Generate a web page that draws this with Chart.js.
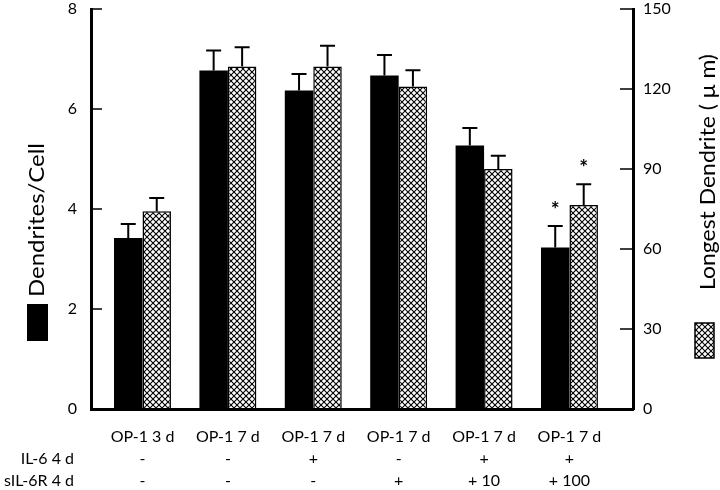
<!DOCTYPE html>
<html><head><meta charset="utf-8">
<script src="https://cdn.jsdelivr.net/npm/chart.js@4/dist/chart.umd.min.js"></script>
<style>html,body{margin:0;padding:0;background:#fff}#wrap{width:720px;height:490px}</style>
</head><body><div id="wrap"><canvas id="c" width="720" height="490"></canvas></div>
<script>
// ---- data ----
const categories = ['OP-1 3 d','OP-1 7 d','OP-1 7 d','OP-1 7 d','OP-1 7 d','OP-1 7 d'];
const il6Row = ['-','-','+','-','+','+'];
const sil6rRow = ['-','-','-','+','+ 10','+ 100'];
const rowHeaders = ['IL-6 4 d','sIL-6R 4 d'];
const dendritesPerCell = [3.42,6.77,6.37,6.67,5.27,3.23];
const dendritesErr = [0.28,0.40,0.33,0.41,0.35,0.43];
const longestDendrite = [74.2,128.4,128.4,120.9,90.0,76.5];
const longestErr = [4.9,7.3,7.8,6.1,5.0,7.8];
const significant = [false,false,false,false,false,true];
const leftTicks = [0,2,4,6,8];
const rightTicks = [0,30,60,90,120,150];
const leftTitle = 'Dendrites/Cell';
const rightTitle = 'Longest Dendrite ( \u03bc m)';

const FONT = 'Lato, "Open Sans", sans-serif';

function makeHatch(ctx){
  const s = 6;
  const c = document.createElement('canvas'); c.width = s; c.height = s;
  const g = c.getContext('2d');
  g.fillStyle = '#fff'; g.fillRect(0,0,s,s);
  g.strokeStyle = '#000'; g.lineWidth = 1.1;
  g.beginPath();
  g.moveTo(-1,-1); g.lineTo(s+1,s+1);
  g.moveTo(-1,s+1); g.lineTo(s+1,-1);
  g.stroke();
  return ctx.createPattern(c,'repeat');
}
const canvas = document.getElementById('c');
const ctx0 = canvas.getContext('2d');
const hatch = makeHatch(ctx0);

function drawVerticalText(ctx, text, cx, cy, length){
  ctx.save();
  ctx.translate(cx, cy);
  ctx.rotate(-Math.PI / 2);
  const w = ctx.measureText(text).width;
  const sx = length ? length / w : 1;
  ctx.scale(sx, 1);
  ctx.fillText(text, 0, 0);
  ctx.restore();
}

const decor = {
  id: 'decor',
  afterDatasetsDraw(chart){
    const ctx = chart.ctx;
    const ca = chart.chartArea;
    const sets = [
      {vals: dendritesPerCell, errs: dendritesErr, scale: chart.scales.y},
      {vals: longestDendrite, errs: longestErr, scale: chart.scales.y2}
    ];
    ctx.save();
    ctx.strokeStyle = '#000';
    sets.forEach((s, di) => {
      const meta = chart.getDatasetMeta(di);
      meta.data.forEach((bar, i) => {
        const yTop = s.scale.getPixelForValue(s.vals[i] + s.errs[i]);
        ctx.lineWidth = 2;
        ctx.beginPath();
        ctx.moveTo(bar.x, bar.y); ctx.lineTo(bar.x, yTop);
        ctx.moveTo(bar.x - 7.5, yTop); ctx.lineTo(bar.x + 7.5, yTop);
        ctx.stroke();
        if (significant[i]) {
          ctx.fillStyle = '#000';
          ctx.font = 'bold 21px ' + FONT;
          ctx.textAlign = 'center'; ctx.textBaseline = 'middle';
          ctx.fillText('*', bar.x, yTop - 16);
        }
      });
    });
    // inward ticks
    ctx.lineWidth = 1.6;
    ctx.beginPath();
    leftTicks.forEach(v => { const p = chart.scales.y.getPixelForValue(v); ctx.moveTo(ca.left, p); ctx.lineTo(ca.left + 11, p); });
    rightTicks.forEach(v => { const p = chart.scales.y2.getPixelForValue(v); ctx.moveTo(ca.right, p); ctx.lineTo(ca.right - 13, p); });
    ctx.stroke();
    ctx.restore();
  },
  afterDraw(chart){
    const ctx = chart.ctx;
    const xs = chart.scales.x;
    ctx.save();
    ctx.fillStyle = '#000';
    // row headers
    ctx.font = '16px ' + FONT;
    ctx.textAlign = 'right'; ctx.textBaseline = 'middle';
    const lh = 22, pad = 17;
    rowHeaders.forEach((t, r) => {
      ctx.fillText(t, 74, xs.top + pad + lh / 2 + (r + 1) * lh);
    });
    // axis titles
    ctx.font = '22px ' + FONT;
    ctx.textAlign = 'center'; ctx.textBaseline = 'middle';
    drawVerticalText(ctx, leftTitle, 37, 220, 154);
    drawVerticalText(ctx, rightTitle, 708, 172, 236);
    // legend boxes
    ctx.fillStyle = '#000';
    ctx.fillRect(27, 304, 21, 37);
    ctx.fillStyle = hatch;
    ctx.fillRect(695, 323, 19, 35);
    ctx.strokeStyle = '#000'; ctx.lineWidth = 1.5;
    ctx.strokeRect(695, 323, 19, 35);
    ctx.restore();
  }
};

new Chart(canvas, {
  type: 'bar',
  data: {
    datasets: [
      {
        label: leftTitle,
        data: dendritesPerCell.map((v, i) => ({x: i, y: v})),
        backgroundColor: '#000', borderColor: '#000', borderWidth: 0,
        yAxisID: 'y'
      },
      {
        label: rightTitle,
        data: longestDendrite.map((v, i) => ({x: i, y: v})),
        backgroundColor: hatch, borderColor: '#000', borderWidth: 1.5,
        yAxisID: 'y2'
      }
    ]
  },
  options: {
    responsive: false, animation: false, devicePixelRatio: 1,
    categoryPercentage: 0.667, barPercentage: 1.0,
    layout: {padding: {top: 9, left: 0, right: 0, bottom: 0}},
    plugins: {legend: {display: false}, tooltip: {enabled: false}},
    scales: {
      x: {
        type: 'linear', min: -0.603, max: 5.744, offset: false,
        grid: {display: false, drawTicks: false},
        border: {display: true, color: '#000', width: 3, z: 1},
        afterBuildTicks: s => { s.ticks = categories.map((c, i) => ({value: i})); },
        afterFit: s => { s.height = 81; s.paddingLeft = 0; s.paddingRight = 0; },
        ticks: {
          color: '#000', padding: 17, maxRotation: 0, autoSkip: false,
          font: {family: FONT, size: 16, lineHeight: '22px'},
          callback: (v) => [categories[v], il6Row[v], sil6rRow[v]]
        }
      },
      y: {
        position: 'left', min: 0, max: 8,
        grid: {display: false, drawTicks: false},
        border: {display: true, color: '#000', width: 3, z: 1},
        afterBuildTicks: s => { s.ticks = leftTicks.map(v => ({value: v})); },
        afterFit: s => { s.width = 91; s.paddingTop = 0; s.paddingBottom = 0; },
        ticks: {color: '#000', padding: 14, font: {family: FONT, size: 16}}
      },
      y2: {
        position: 'right', min: 0, max: 150,
        grid: {display: false, drawTicks: false},
        border: {display: true, color: '#000', width: 3, z: 1},
        afterBuildTicks: s => { s.ticks = rightTicks.map(v => ({value: v})); },
        afterFit: s => { s.width = 87; s.paddingTop = 0; s.paddingBottom = 0; },
        ticks: {color: '#000', padding: 10, font: {family: FONT, size: 16}}
      }
    }
  },
  plugins: [decor]
});
</script>
</body></html>
